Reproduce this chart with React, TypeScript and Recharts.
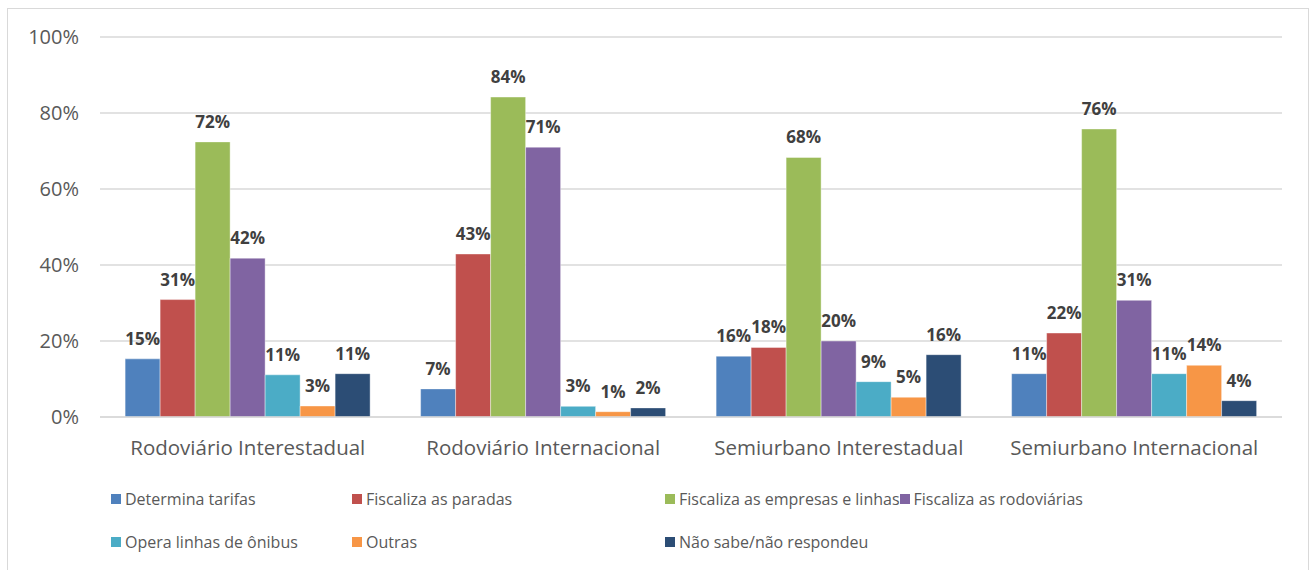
import { Bar, BarChart, CartesianGrid, LabelList, Legend, XAxis, YAxis } from 'recharts'

const categories = ['Rodoviário Interestadual', 'Rodoviário Internacional', 'Semiurbano Interestadual', 'Semiurbano Internacional']

const seriesNames = [
    'Determina tarifas',
    'Fiscaliza as paradas',
    'Fiscaliza as empresas e linhas',
    'Fiscaliza as rodoviárias',
    'Opera linhas de ônibus',
    'Outras',
    'Não sabe/não respondeu',
]

const determinaTarifas = [15.3, 7.4, 16.0, 11.4]
const fiscalizaParadas = [30.9, 42.9, 18.3, 22.1]
const fiscalizaEmpresas = [72.4, 84.2, 68.3, 75.8]
const fiscalizaRodoviarias = [41.8, 71.0, 20.0, 30.7]
const operaLinhas = [11.1, 2.8, 9.3, 11.4]
const outras = [2.9, 1.4, 5.2, 13.6]
const naoSabe = [11.4, 2.4, 16.4, 4.3]

const yTicks = [0, 20, 40, 60, 80, 100]

const COLORS = ['#4F81BD', '#C0504D', '#9BBB59', '#8064A2', '#4BACC6', '#F79646', '#2C4D75']

const seriesValues = [determinaTarifas, fiscalizaParadas, fiscalizaEmpresas, fiscalizaRodoviarias, operaLinhas, outras, naoSabe]

const chartData = categories.map((name, i) => {
    const row: Record<string, string | number> = { name }
    seriesNames.forEach((s, k) => {
        row[s] = seriesValues[k][i]
    })
    return row
})

const FONT = '"Open Sans", "Noto Sans", sans-serif'

// legend laid out in columns like the Excel one
const legendCols = [241, 313, 222, 260]

function ChartLegend() {
    const rows = [seriesNames.slice(0, 4), seriesNames.slice(4)]
    return (
        <div style={{ fontFamily: FONT, fontSize: 16, color: '#595959' }}>
            {rows.map((row, r) => (
                <div key={r} style={{ display: 'flex', height: 43, alignItems: 'center', paddingLeft: 111 }}>
                    {row.map((name, c) => {
                        const idx = seriesNames.indexOf(name)
                        return (
                            <div key={name} style={{ minWidth: legendCols[c], flexShrink: 0, display: 'flex', alignItems: 'center', whiteSpace: 'nowrap' }}>
                                <span style={{ display: 'inline-block', flexShrink: 0, width: 10, height: 10, background: COLORS[idx], marginRight: 4 }} />
                                <span>{name}</span>
                            </div>
                        )
                    })}
                </div>
            ))}
        </div>
    )
}

export default function App() {
    return (
        <div style={{ position: 'absolute', left: 0, top: 0, width: 1314, height: 570, background: '#fff', overflow: 'hidden' }}>
            <div style={{ position: 'absolute', left: 7, top: 8, width: 1300, height: 600, border: '1px solid #d9d9d9' }} />
            <BarChart
                width={1314}
                height={570}
                data={chartData}
                margin={{ top: 37, right: 32, bottom: 93, left: 0 }}
                barGap={0}
                barCategoryGap="8.5%"
                style={{ position: 'absolute', left: 0, top: 0 }}
            >
                <CartesianGrid vertical={false} stroke="#d9d9d9" strokeWidth={1.5} />
                <XAxis
                    dataKey="name"
                    height={60}
                    axisLine={{ stroke: '#d9d9d9', strokeWidth: 1.5 }}
                    tickLine={false}
                    tick={{ fill: '#595959', fontSize: 20.5, fontFamily: FONT }}
                    tickMargin={17}
                />
                <YAxis
                    width={100}
                    domain={[0, 100]}
                    ticks={yTicks}
                    axisLine={false}
                    tickLine={false}
                    tick={{ fill: '#595959', fontSize: 20, fontFamily: FONT }}
                    tickFormatter={(v: number) => `${v}%`}
                    tickMargin={15}
                />
                <Legend
                    verticalAlign="middle"
                    align="center"
                    layout="horizontal"
                    wrapperStyle={{ top: 477, left: 0, width: 1314 }}
                    content={() => <ChartLegend />}
                />
                {seriesNames.map((s, k) => (
                    <Bar key={s} dataKey={s} fill={COLORS[k]} stroke="#ffffff" strokeOpacity={0.4} isAnimationActive={false}>
                        <LabelList
                            dataKey={s}
                            position="top"
                            offset={14}
                            formatter={(v: any) => `${Math.round(Number(v))}%`}
                            style={{ fill: '#404040', fontSize: 17, fontWeight: 700, fontFamily: FONT }}
                        />
                    </Bar>
                ))}
            </BarChart>
        </div>
    )
}
